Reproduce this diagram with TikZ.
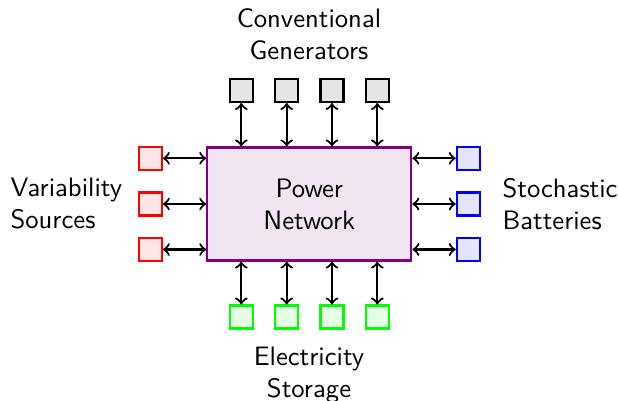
\documentclass[tikz,border=0pt]{standalone}
\usetikzlibrary{positioning}
\begin{document}
\begin{tikzpicture}[x=0.375pt,y=-0.375pt,font=\sffamily,
  sq/.style={draw,thick,minimum size=8.6pt,inner sep=0pt},
  gen/.style={sq,fill=gray!20,draw=black},
  var/.style={sq,fill=red!10,draw=red},
  bat/.style={sq,fill=blue!10,draw=blue},
  sto/.style={sq,fill=green!10,draw=green},
  link/.style={thick,<->},
  lbl/.style={align=center,inner sep=0pt}]
\useasboundingbox (0,0) rectangle (618,401);
\node[draw=violet,fill=violet!10,thick,minimum width=76.5pt,minimum height=42.4pt,align=center,inner sep=0pt] (net) at (309.3,204) {Power\\Network};
\foreach \i/\x in {1/241.3,2/286.7,3/332,4/377.3}{
  \node[gen] (g\i) at (\x,90.5) {};
  \node[sto] (s\i) at (\x,317) {};
  \draw[link] (g\i) -- (g\i |- net.north);
  \draw[link] (s\i) -- (s\i |- net.south);
}
\foreach \i/\y in {1/158.3,2/204,3/249.5}{
  \node[var] (v\i) at (150.3,\y) {};
  \node[bat] (b\i) at (468.3,\y) {};
  \draw[link] (v\i) -- (v\i -| net.west);
  \draw[link] (b\i) -- (b\i -| net.east);
}
\node[lbl,anchor=south] (tg) at (309,60) {Conventional\\Generators};
\node[lbl,anchor=north] (ts) at (309,346) {Electricity\\Storage};
\node[lbl,align=left,anchor=west] (tv) at (10,204) {Variability\\Sources};
\node[lbl,align=left,anchor=west] (tb) at (502,204) {Stochastic\\Batteries};
\end{tikzpicture}
\end{document}
